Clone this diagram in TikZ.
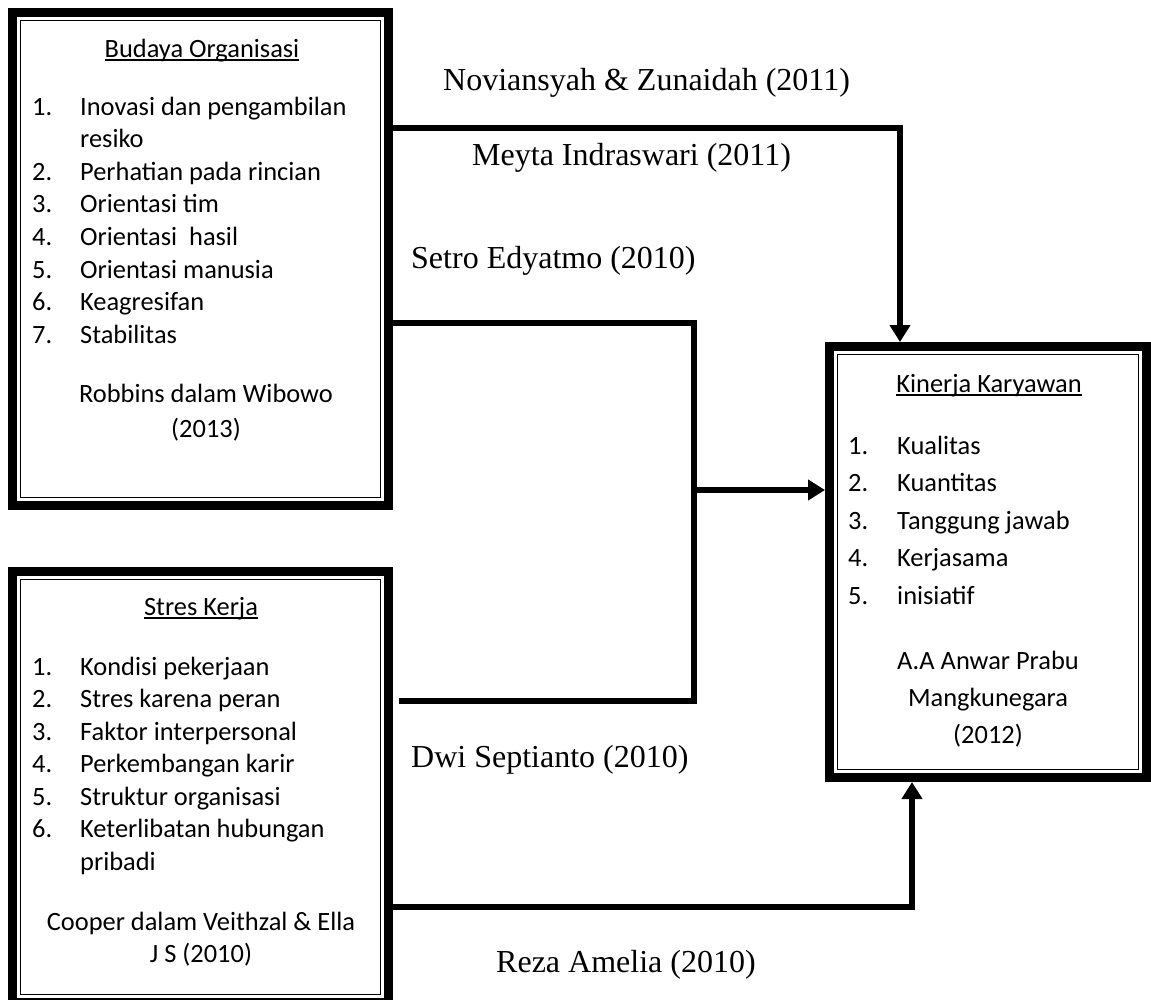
\documentclass[tikz,border=0pt]{standalone}
\usepackage{fontspec}
\setmainfont{Carlito}
\newfontfamily\tnr{Liberation Serif}
\usetikzlibrary{arrows.meta,calc}
\newsavebox\ulbox
\newcommand\myul[1]{\sbox\ulbox{#1}\rlap{\rule[-3.5pt]{\wd\ulbox}{1.7pt}}\usebox\ulbox}
\newcommand\dblborder[1]{%
  \draw[line width=9pt] ($(#1.north west)+(4.5,4.5)$) rectangle ($(#1.south east)+(-4.5,-4.5)$);
  \draw[line width=1.8pt] ($(#1.north west)+(12.5,12.5)$) rectangle ($(#1.south east)+(-12.5,-12.5)$);}
\begin{document}
\begin{tikzpicture}[x=1pt,y=-1pt,
  boxnode/.style={draw=none,inner sep=0,outer sep=0,rectangle},
  txt/.style={anchor=base west,inner sep=0,font=\fontsize{26.4}{32}\selectfont},
  ctxt/.style={anchor=base,inner sep=0,font=\fontsize{26.4}{32}\selectfont},
  lbl/.style={anchor=base west,inner sep=0,font=\tnr\fontsize{32}{38}\selectfont},
  conn/.style={line width=6pt},
  arr/.style={conn,-{Triangle[width=20pt,length=17pt]}}]
\useasboundingbox (0,0) rectangle (1151,999);
\clip (0,0) rectangle (1151,999);
\fill[white] (0,0) rectangle (1151,999);

% boxes
\node[boxnode,minimum width=385pt,minimum height=502pt] (b1) at (200.5,259) {};
\node[boxnode,minimum width=385pt,minimum height=440pt] (b2) at (200.5,787) {};
\node[boxnode,minimum width=326pt,minimum height=440pt] (b3) at (988,562) {};
\dblborder{b1}
\dblborder{b2}
\dblborder{b3}

% Box 1 text
\node[ctxt] (b1t) at (202,57) {\myul{Budaya Organisasi}};
\foreach \n/\t/\y [count=\k] in {1./Inovasi dan pengambilan/115, /resiko/147.6,
  2./Perhatian pada rincian/180.2, 3./Orientasi tim/212.8, 4./Orientasi\ \ hasil/245.4,
  5./Orientasi manusia/278, 6./Keagresifan/310.6, 7./Stabilitas/343.2}{
  \node[txt] (b1n\k) at (32,\y) {\n};
  \node[txt] (b1i\k) at (80,\y) {\t};
}
\node[ctxt] (b1r1) at (206,402) {Robbins dalam Wibowo};
\node[ctxt] (b1r2) at (206,437) {(2013)};

% Box 2 text
\node[ctxt] (b2t) at (201,615) {\myul{Stres Kerja}};
\foreach \n/\t/\y [count=\k] in {1./Kondisi pekerjaan/675, 2./Stres karena peran/707.5,
  3./Faktor interpersonal/740, 4./Perkembangan karir/772.5, 5./Struktur organisasi/805,
  6./Keterlibatan hubungan/837.5, /pribadi/870}{
  \node[txt] (b2n\k) at (32,\y) {\n};
  \node[txt] (b2i\k) at (80,\y) {\t};
}
\node[ctxt] (b2r1) at (201,930) {Cooper dalam Veithzal \& Ella};
\node[ctxt] (b2r2) at (201,962) {J S (2010)};

% Box 3 text
\node[ctxt] (b3t) at (989,392) {\myul{Kinerja Karyawan}};
\foreach \n/\t/\y [count=\k] in {1./Kualitas/454, 2./Kuantitas/491.5, 3./Tanggung jawab/529,
  4./Kerjasama/566.5, 5./inisiatif/604}{
  \node[txt] (b3n\k) at (848,\y) {\n};
  \node[txt] (b3i\k) at (897,\y) {\t};
}
\node[ctxt] (b3r1) at (988,669) {A.A Anwar Prabu};
\node[ctxt] (b3r2) at (988,706) {Mangkunegara};
\node[ctxt] (b3r3) at (988,743) {(2012)};

% labels
\node[lbl] (l1) at (443,90) {Noviansyah \& Zunaidah (2011)};
\node[lbl] (l2) at (472,165) {Meyta Indraswari (2011)};
\node[lbl] (l3) at (411,268) {Setro Edyatmo (2010)};
\node[lbl] (l4) at (411,767) {Dwi Septianto (2010)};
\node[lbl] (l5) at (496,972) {Reza Amelia (2010)};

% connectors
\coordinate (a1) at ($(b1.north east)+(0,120)$);
\coordinate (a2) at ($(b3.north west)+(75,0)$);
\draw[arr] (a1) -| (a2);

\coordinate (c1) at ($(b1.north east)+(0,315)$);
\coordinate (jb) at (694,701);
\coordinate (jt) at (694,490);
\coordinate (c2) at ($(b2.north east)+(6,134)$);
\draw[conn] (c1) -| (jb) -- (c2);
\draw[arr] (jt) -- (jt -| b3.west);

\coordinate (d1) at ($(b2.north east)+(0,340)$);
\coordinate (d2) at ($(b3.south west)+(87,0)$);
\draw[arr] (d1) -| (d2);
\end{tikzpicture}
\end{document}
